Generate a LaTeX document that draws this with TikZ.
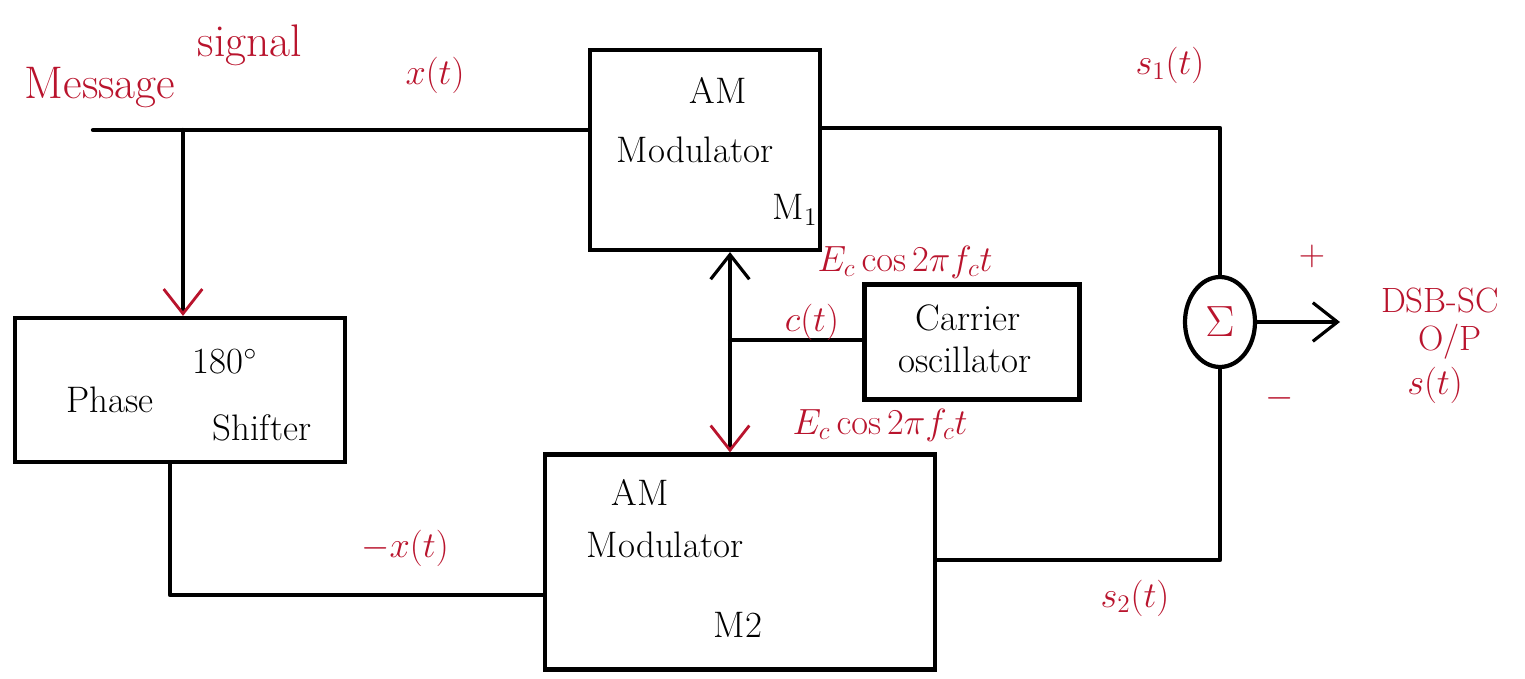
\documentclass[tikz,border=0pt]{standalone}
\usetikzlibrary{arrows.meta,shapes.geometric}
\definecolor{ink}{RGB}{185,20,45}
\begin{document}
\begin{tikzpicture}[x=0.02cm,y=-0.02cm,
  wire/.style={line width=2.4pt,line cap=round,line join=round},
  blk/.style={draw,line width=2.4pt,rectangle,inner sep=0pt},
  btxt/.style={font=\fontsize{21}{24}\selectfont},
  rtxt/.style={text=ink,font=\fontsize{22}{26}\selectfont},
  rtip/.style={-{Straight Barb[length=14pt,width=22pt,color=ink,line width=1.6pt]}},
  ktip/.style={-{Straight Barb[length=14pt,width=22pt,line width=1.8pt]}}]
\useasboundingbox (0,0) rectangle (1525,679);
% blocks
\node[blk,minimum width=4.6cm,minimum height=4cm] (M1) at (705,150) {};
\node[blk,minimum width=6.6cm,minimum height=2.88cm] (PS) at (180,390) {};
\node[blk,minimum width=7.8cm,minimum height=4.3cm] (M2) at (740,562) {};
\node[blk,minimum width=4.3cm,minimum height=2.3cm] (CO) at (972,342) {};
\node[draw,line width=2.4pt,ellipse,minimum width=1.4cm,minimum height=1.8cm,inner sep=0pt] (SG) at (1220,322) {};
% block texts
\node[btxt] (m1a) at (718,90) {AM};
\node[btxt] (m1b) at (695,150) {Modulator};
\node[btxt] (m1c) at (795,210) {M$_1$};
\node[btxt] (m2a) at (640,492) {AM};
\node[btxt] (m2b) at (665,545) {Modulator};
\node[btxt] (m2c) at (738,625) {M2};
\node[btxt] (psa) at (225,362) {180$^\circ$};
\node[btxt] (psb) at (110,400) {Phase};
\node[btxt] (psc) at (262,428) {Shifter};
\node[btxt] (coa) at (968,318) {Carrier};
\node[btxt] (cob) at (965,360) {oscillator};
\node[text=ink,font=\fontsize{26}{30}\selectfont] (sgt) at (SG) {$\Sigma$};
% coordinates
\coordinate (msg) at (93,130);
\coordinate (j1) at (183,130);
\coordinate (b1) at (170,595);
\coordinate (c1) at (1220,128);
\coordinate (c2) at (1220,560);
\coordinate (j2) at (730,340);
\coordinate (out) at (1340,322);
% connectors
\draw[wire] (msg) -- (j1) -- (j1 -| M1.west);
\draw[wire,rtip] (j1) -- (PS.north -| j1);
\draw[wire] (PS.south -| b1) -- (b1) -- (b1 -| M2.west);
\draw[wire] (c1 -| M1.east) -- (c1) -- (SG.north);
\draw[wire] (SG.south) -- (c2) -- (c2 -| M2.east);
\draw[wire,ktip] (SG.east) -- (out);
\draw[wire,ktip] (j2) -- (M1.south -| j2);
\draw[wire,rtip] (j2) -- (M2.north -| j2);
\draw[wire] (j2) -- (CO.west |- j2);
% red labels
\node[rtxt,font=\fontsize{26}{30}\selectfont] (lmsg1) at (100,88) {Message};
\node[rtxt,font=\fontsize{26}{30}\selectfont] (lmsg2) at (250,45) {signal};
\node[rtxt] (lx) at (435,75) {$x(t)$};
\node[rtxt] (ls1) at (1170,65) {$s_1(t)$};
\node[rtxt] (lec1) at (905,262) {$E_c\cos 2\pi f_c t$};
\node[rtxt] (lct) at (812,322) {$c(t)$};
\node[rtxt] (lec2) at (880,425) {$E_c\cos 2\pi f_c t$};
\node[rtxt] (lmx) at (405,548) {$-x(t)$};
\node[rtxt] (ls2) at (1135,598) {$s_2(t)$};
\node[rtxt] (lp) at (1312,256) {$+$};
\node[rtxt] (lm) at (1280,398) {$-$};
\node[rtxt,font=\fontsize{20}{24}\selectfont] (ld1) at (1440,300) {DSB-SC};
\node[rtxt,font=\fontsize{20}{24}\selectfont] (ld2) at (1450,342) {O/P};
\node[rtxt,font=\fontsize{20}{24}\selectfont] (ld3) at (1435,385) {$s(t)$};
\end{tikzpicture}
\end{document}
